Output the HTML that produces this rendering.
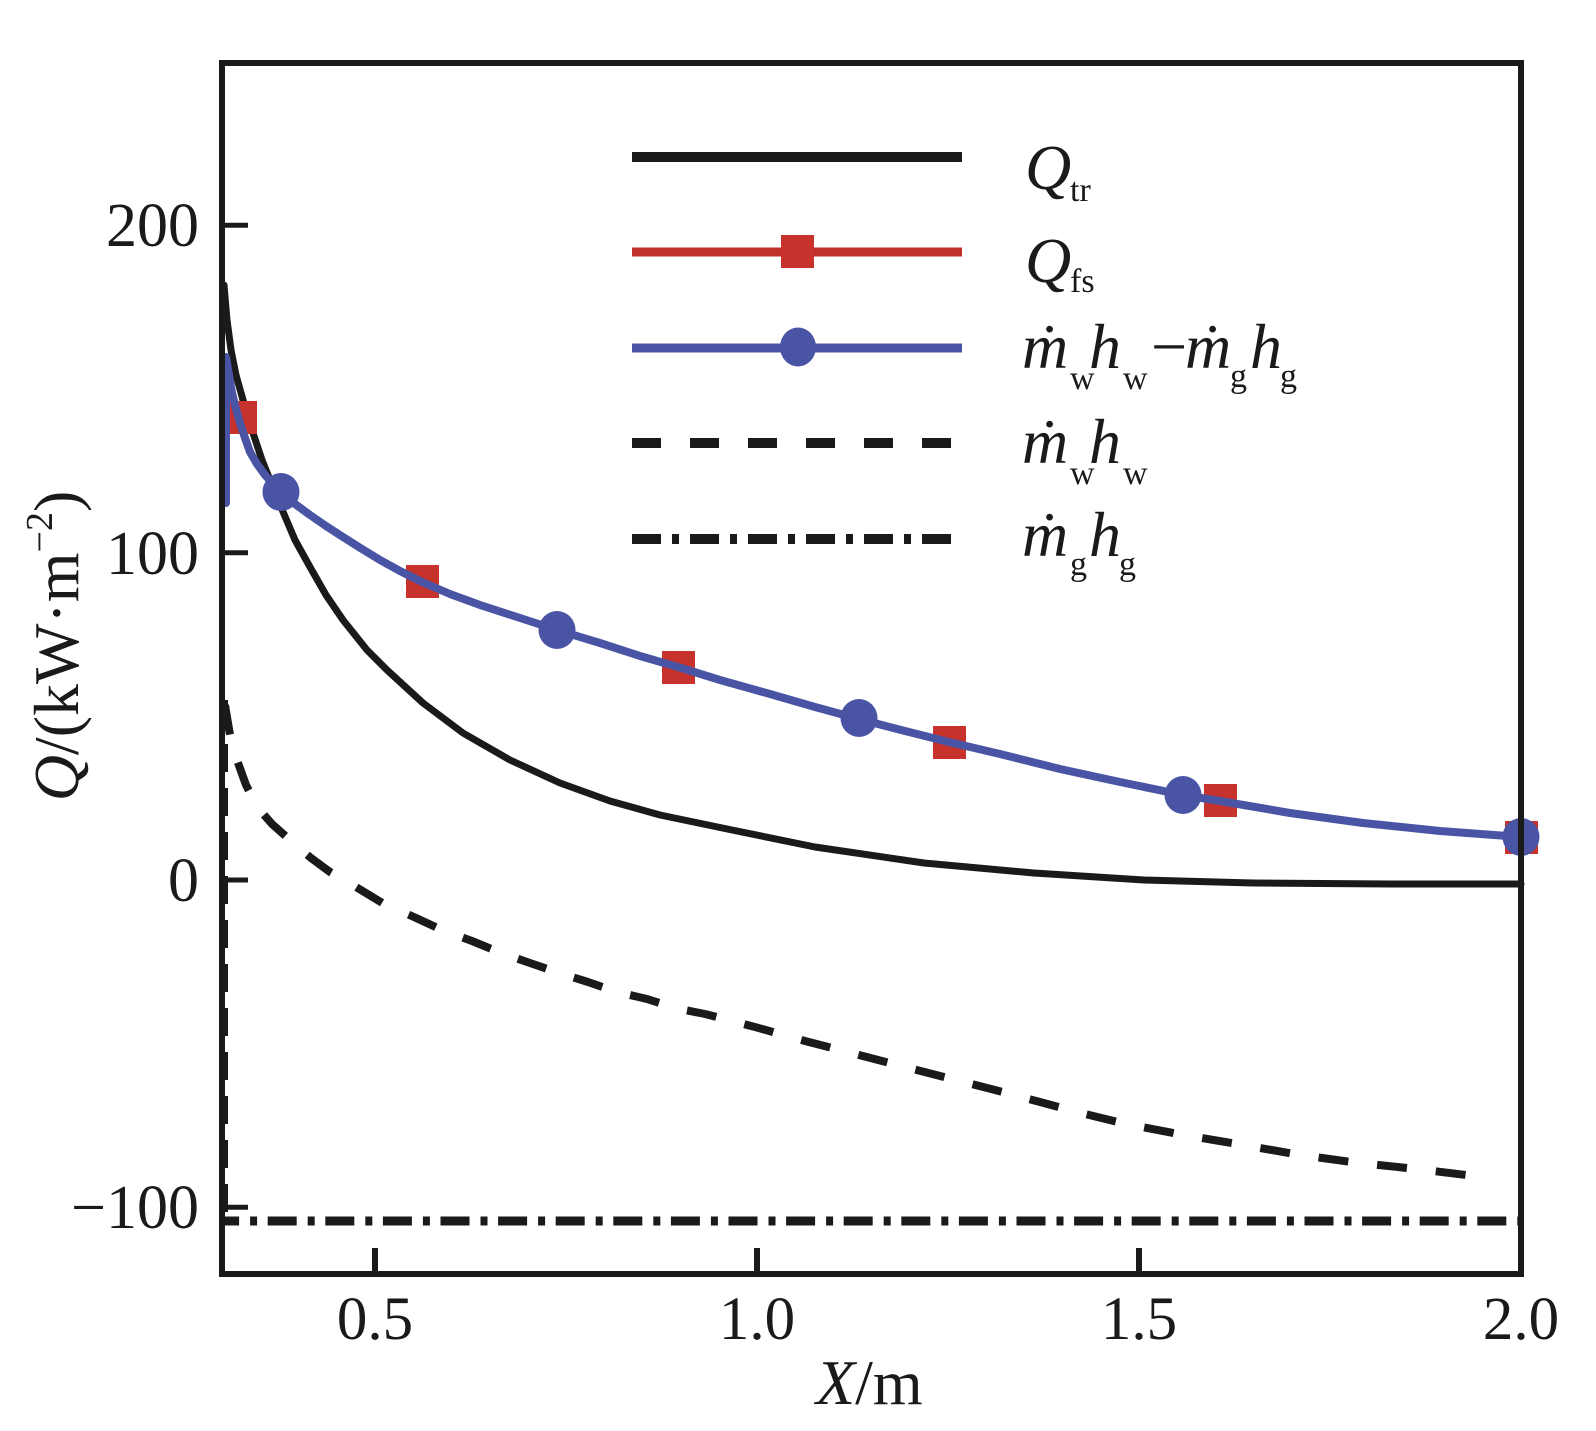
<!DOCTYPE html>
<html>
<head>
<meta charset="utf-8">
<style>
html,body{margin:0;padding:0;background:#fff;}
svg{display:block;}
text{font-family:"Liberation Serif","DejaVu Serif",serif;fill:#1a1a1a;}
.it{font-style:italic;}
</style>
</head>
<body>
<svg width="1596" height="1431" viewBox="0 0 1596 1431" xmlns="http://www.w3.org/2000/svg">
<rect x="0" y="0" width="1596" height="1431" fill="#fff"/>

<!-- curves -->
<!-- dash-dot m_g h_g -->
<line x1="225" y1="1221" x2="1521" y2="1221" stroke="#1a1a1a" stroke-width="9" stroke-dasharray="29 11 7 10.6" stroke-dashoffset="14.9"/>
<line x1="226" y1="700" x2="226" y2="1215" stroke="#1a1a1a" stroke-width="4" stroke-dasharray="28 16"/>

<!-- dashed m_w h_w -->
<polyline fill="none" stroke="#1a1a1a" stroke-width="8" stroke-dasharray="30 29" stroke-linejoin="round"
points="225,705 230,735 237,760 246,785 258,808 272,824 290,840 311,858 330,872 356,887 384,904 414,917 442,930 472,941 501,953 530,963 559,973 588,982 617,992 647,999 675,1008 705,1014 755,1027 805,1041 859,1055 905,1067 948,1078 995,1090 1040,1102 1085,1114 1126,1124 1184,1135 1243,1145 1300,1155 1359,1163 1417,1169 1474,1176 1489,1177"/>

<!-- black Q_tr -->
<polyline fill="none" stroke="#1a1a1a" stroke-width="7" stroke-linejoin="round" stroke-linecap="round"
points="224,285 227,320 231,350 236,375 243,400 252,430 262,460 272,485 281,507 295,540 310,567 326,595 343,620 367,650 387,670 423,703 463,733 510,760 560,783 610,801 660,815 732,830 815,847 924,863 1034,873 1144,880 1253,883 1390,884 1521,884"/>

<!-- red squares Q_fs -->
<g fill="#c8322c">
<rect x="224" y="401" width="33" height="33"/>
<rect x="406" y="565" width="33" height="33"/>
<rect x="662" y="651" width="33" height="33"/>
<rect x="933" y="726" width="33" height="33"/>
<rect x="1204" y="784" width="33" height="33"/>
<rect x="1505" y="821" width="33" height="33"/>
</g>

<!-- blue line -->
<polyline fill="none" stroke="#4a54a4" stroke-width="8" stroke-linejoin="round" stroke-linecap="round"
points="226,503 226,357 229,375 232,393 236,409 240,423 245,438 250,452 257,464 265,475 273,484 281,492 295,504 310,515 326,526 343,537 362,549 380,560 400,571 422,582 450,594 480,605 517,617 557,630 600,643 640,656 678,667 720,680 770,694 815,707 859,719 905,731 949,742 1000,754 1060,769 1120,782 1183,795 1220,801 1290,813 1363,823 1440,831 1521,837"/>
<g fill="#4a54a4">
<ellipse cx="281" cy="492" rx="18.5" ry="19"/>
<ellipse cx="557" cy="630" rx="18.5" ry="19"/>
<ellipse cx="859" cy="718" rx="18.5" ry="19"/>
<ellipse cx="1183" cy="795" rx="18.5" ry="19"/>
<ellipse cx="1521" cy="837" rx="18.5" ry="19"/>
</g>

<!-- frame -->
<rect x="222" y="63" width="1299" height="1211" fill="none" stroke="#1a1a1a" stroke-width="6"/>
<!-- y ticks -->
<g stroke="#1a1a1a" stroke-width="5">
<line x1="222" y1="225.3" x2="248" y2="225.3"/>
<line x1="222" y1="552.7" x2="248" y2="552.7"/>
<line x1="222" y1="880" x2="248" y2="880"/>
<line x1="222" y1="1207.3" x2="248" y2="1207.3"/>
</g>
<!-- x ticks -->
<g stroke="#1a1a1a" stroke-width="6">
<line x1="375" y1="1274" x2="375" y2="1248"/>
<line x1="757" y1="1274" x2="757" y2="1248"/>
<line x1="1139" y1="1274" x2="1139" y2="1248"/>
</g>

<!-- y tick labels -->
<g font-size="62" text-anchor="end">
<text x="199" y="246">200</text>
<text x="199" y="574">100</text>
<text x="199" y="901">0</text>
<text x="199" y="1228">−100</text>
</g>
<!-- x tick labels -->
<g font-size="61" text-anchor="middle">
<text x="375" y="1339">0.5</text>
<text x="757" y="1339">1.0</text>
<text x="1139" y="1339">1.5</text>
<text x="1521" y="1339">2.0</text>
</g>

<!-- axis titles -->
<text x="816" y="1404" font-size="64"><tspan class="it">X</tspan>/m</text>
<text transform="translate(78,646) rotate(-90)" text-anchor="middle" font-size="64"><tspan class="it">Q</tspan>/(kW·m<tspan font-size="38" dy="-26">−2</tspan><tspan dy="26">)</tspan></text>

<!-- legend lines -->
<line x1="632" y1="157" x2="962" y2="157" stroke="#1a1a1a" stroke-width="10"/>
<line x1="632" y1="252" x2="962" y2="252" stroke="#c1312b" stroke-width="9"/>
<rect x="781" y="235" width="33" height="33" fill="#c8322c"/>
<line x1="632" y1="348" x2="962" y2="348" stroke="#4a54a4" stroke-width="9"/>
<ellipse cx="798" cy="347" rx="18" ry="19.5" fill="#4a54a4"/>
<line x1="632" y1="443" x2="962" y2="443" stroke="#1a1a1a" stroke-width="10" stroke-dasharray="29 29"/>
<line x1="632" y1="539" x2="962" y2="539" stroke="#1a1a1a" stroke-width="10" stroke-dasharray="29 11 7 11"/>

<!-- legend text -->
<g font-size="64">
<text x="1025" y="189" class="it">Q</text>
<text x="1070" y="201" font-size="34">tr</text>
<text x="1025" y="282" class="it">Q</text>
<text x="1070" y="292" font-size="34">fs</text>

<text x="1022" y="368" class="it">ṁ</text>
<text x="1070" y="389" font-size="34">w</text>
<text x="1089" y="368" class="it">h</text>
<text x="1123" y="389" font-size="34">w</text>
<text x="1151" y="368">−</text>
<text x="1185" y="368" class="it">ṁ</text>
<text x="1230" y="387" font-size="34">g</text>
<text x="1250" y="368" class="it">h</text>
<text x="1280" y="387" font-size="34">g</text>

<text x="1022" y="463" class="it">ṁ</text>
<text x="1070" y="484" font-size="34">w</text>
<text x="1089" y="463" class="it">h</text>
<text x="1123" y="484" font-size="34">w</text>

<text x="1022" y="556" class="it">ṁ</text>
<text x="1070" y="575" font-size="34">g</text>
<text x="1089" y="556" class="it">h</text>
<text x="1119" y="575" font-size="34">g</text>
</g>
</svg>
</body>
</html>
